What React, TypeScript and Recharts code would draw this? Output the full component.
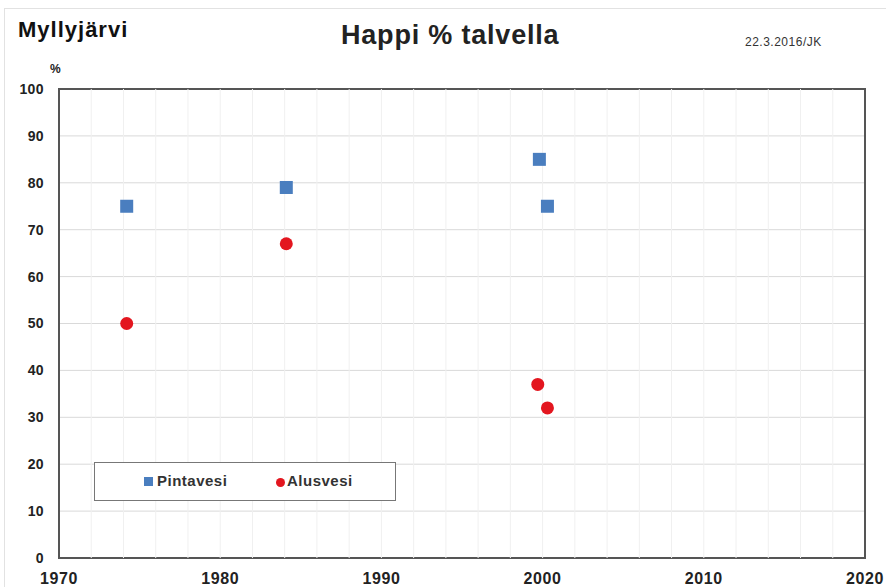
import React from 'react';
import { ScatterChart, Scatter, XAxis, YAxis, CartesianGrid, ReferenceLine, ReferenceArea } from 'recharts';

const pintavesiYears = [1974.2, 1984.1, 1999.8, 2000.3];
const pintavesiValues = [75, 79, 85, 75];
const alusvesiYears = [1974.2, 1984.1, 1999.7, 2000.3];
const alusvesiValues = [50, 67, 37, 32];
const xTicks = [1970, 1980, 1990, 2000, 2010, 2020];
const yTicks = [0, 10, 20, 30, 40, 50, 60, 70, 80, 90, 100];
const minorYears = [1972, 1974, 1976, 1978, 1980, 1982, 1984, 1986, 1988, 1990, 1992, 1994, 1996, 1998, 2000, 2002, 2004, 2006, 2008, 2010, 2012, 2014, 2016, 2018];

const pintavesi = pintavesiYears.map((x, i) => ({ x, y: pintavesiValues[i] }));
const alusvesi = alusvesiYears.map((x, i) => ({ x, y: alusvesiValues[i] }));

const FONT = '"Liberation Sans", Arial, sans-serif';
const BLUE = '#4a7ebf';
const RED = '#e3161f';

const SquareShape = (props: any) => (
  <rect x={props.cx - 6.5} y={props.cy - 6.5} width={13} height={13} fill={BLUE} />
);
const CircleShape = (props: any) => <circle cx={props.cx} cy={props.cy} r={6.5} fill={RED} />;

export default function App() {
  return (
    <div style={{ position: 'absolute', left: 0, top: 0, width: 886, height: 587, background: '#fff', fontFamily: FONT, overflow: 'hidden' }}>
      <div style={{ position: 'absolute', left: 4, top: 8, width: 900, height: 600, border: '1px solid #e2e2e2' }} />
      <ScatterChart width={886} height={587} margin={{ top: 89, right: 21, bottom: 0, left: 0 }}>
        <CartesianGrid stroke="#d9d9d9" vertical={false} horizontalValues={yTicks} />
        {minorYears.map(yr => (
          <ReferenceLine key={yr} x={yr} stroke="#f0f0f0" strokeWidth={1} />
        ))}
        <XAxis
          type="number"
          dataKey="x"
          domain={[1970, 2020]}
          ticks={xTicks}
          height={29}
          axisLine={false}
          tickLine={false}
          tickSize={0}
          tickMargin={15}
          tick={{ fontSize: 16, fontWeight: 700, fill: '#222', fontFamily: FONT, letterSpacing: 0.6 }}
        />
        <YAxis
          type="number"
          dataKey="y"
          domain={[0, 100]}
          ticks={yTicks}
          width={59}
          axisLine={false}
          tickLine={false}
          tickSize={0}
          tickMargin={15}
          tick={{ fontSize: 14, fontWeight: 700, fill: '#222', fontFamily: FONT, letterSpacing: 0.4 }}
        />
        <ReferenceArea x1={1970} x2={2020} y1={0} y2={100} fill="none" stroke="#555" strokeWidth={2} ifOverflow="visible" />
        <Scatter name="Pintavesi" data={pintavesi} shape={SquareShape} isAnimationActive={false} />
        <Scatter name="Alusvesi" data={alusvesi} shape={CircleShape} isAnimationActive={false} />
      </ScatterChart>
      <div style={{ position: 'absolute', left: 18, top: 17, fontSize: 22, fontWeight: 700, color: '#111', letterSpacing: 1 }}>Myllyjärvi</div>
      <div style={{ position: 'absolute', left: 341, top: 20, fontSize: 27, fontWeight: 700, color: '#222', letterSpacing: 0.8 }}>Happi % talvella</div>
      <div style={{ position: 'absolute', left: 745, top: 35, fontSize: 12, color: '#333', letterSpacing: 0.5 }}>22.3.2016/JK</div>
      <div style={{ position: 'absolute', left: 50, top: 62, fontSize: 12, fontWeight: 700, color: '#222' }}>%</div>
      <div style={{ position: 'absolute', left: 94, top: 462, width: 302, height: 39, border: '1px solid #777', background: '#fff', boxSizing: 'border-box' }}>
        <div style={{ position: 'absolute', left: 49, top: 14, width: 9, height: 9, background: BLUE }} />
        <div style={{ position: 'absolute', left: 62, top: 9, fontSize: 15, fontWeight: 700, color: '#333', letterSpacing: 0.5 }}>Pintavesi</div>
        <div style={{ position: 'absolute', left: 181, top: 15, width: 9, height: 9, borderRadius: '50%', background: RED }} />
        <div style={{ position: 'absolute', left: 192, top: 9, fontSize: 15, fontWeight: 700, color: '#333', letterSpacing: 0.5 }}>Alusvesi</div>
      </div>
    </div>
  );
}
